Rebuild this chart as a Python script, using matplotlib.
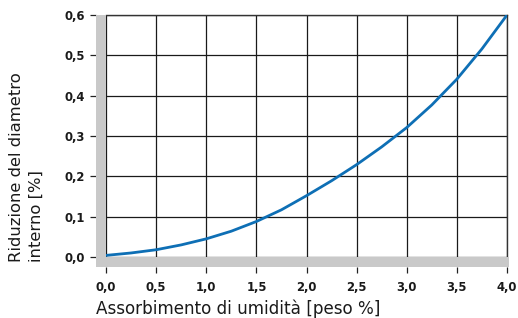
import numpy as np
import matplotlib.pyplot as plt
from matplotlib.patches import Rectangle

# values
absorption = [0.0, 0.25, 0.5, 0.75, 1.0, 1.25, 1.5, 1.75, 2.0,
              2.25, 2.5, 2.75, 3.0, 3.25, 3.5, 3.75, 4.0]
reduction = [0.004, 0.010, 0.018, 0.030, 0.045, 0.064, 0.088, 0.117, 0.152,
             0.189, 0.229, 0.273, 0.321, 0.377, 0.441, 0.516, 0.600]

x_ticks = [0.0, 0.5, 1.0, 1.5, 2.0, 2.5, 3.0, 3.5, 4.0]
y_ticks = [0.0, 0.1, 0.2, 0.3, 0.4, 0.5, 0.6]

plt.rcParams['font.family'] = ['DejaVu Sans']

W, H = 518, 318
fig = plt.figure(figsize=(W / 100, H / 100), dpi=100)
ax = fig.add_axes([106 / W, 61 / H, 401 / W, 242 / H])

ax.plot(absorption, reduction, color='#0e6fb5', lw=2.0, zorder=3)

ax.set_xlim(0, 4)
ax.set_ylim(0, 0.6)
ax.set_xticks(x_ticks)
ax.set_yticks(y_ticks)
ax.set_xticklabels([f'{v:.1f}'.replace('.', ',') for v in x_ticks])
ax.set_yticklabels([f'{v:.1f}'.replace('.', ',') for v in y_ticks])
ax.grid(True, color='#1a1a1a', lw=0.9)
ax.set_axisbelow(True)

for s in ['top', 'right']:
    ax.spines[s].set_color('#333333')
    ax.spines[s].set_linewidth(1.0)
for s in ['left', 'bottom']:
    ax.spines[s].set_position(('outward', 7.2))
    ax.spines[s].set_visible(False)

ax.tick_params(axis='both', direction='out', length=4.3, width=0.9,
               color='#222222', labelsize=8.4, labelcolor='#1a1a1a')
ax.tick_params(axis='x', pad=6)
ax.tick_params(axis='y', pad=3.6)
for lab in ax.get_xticklabels() + ax.get_yticklabels():
    lab.set_fontweight('bold')

# grey bars along the left and bottom edges
gray = '#c9c9c9'
bw = 10 / 401
bh = 10 / 242
ax.add_patch(Rectangle((-bw, -bh), bw, 1 + bh, transform=ax.transAxes,
                       color=gray, clip_on=False, zorder=4, lw=0))
ax.add_patch(Rectangle((-bw, -bh), 1 + bw + 0.004, bh, transform=ax.transAxes,
                       color=gray, clip_on=False, zorder=4, lw=0))

fig.text(238.5 / W, 1 - 314.5 / H, 'Assorbimento di umidità [peso %]',
         ha='center', va='baseline', fontsize=12.1, color='#1a1a1a')
fig.text(26.5 / W, 1 - 262 / H, 'Riduzione del diametro\ninterno [%]',
         rotation=90, ha='center', va='bottom', multialignment='left',
         fontsize=11.8, color='#1a1a1a', linespacing=1.35)

fig.savefig('out.png', dpi=100)
